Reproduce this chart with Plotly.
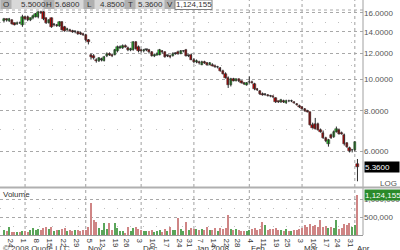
import math
import pandas as pd
import plotly.graph_objects as go

# ---------------- data ----------------
holidays = ["2007-11-22", "2007-12-25", "2008-01-01", "2008-01-21", "2008-02-18", "2008-03-21"]
dates = [d.strftime("%Y-%m-%d") for d in pd.bdate_range("2007-09-19", "2008-04-02")
         if d.strftime("%Y-%m-%d") not in holidays]

opens = [15.10, 15.30, 15.10, 15.20, 14.85, 14.75, 14.95, 14.70, 15.50, 15.60,
         15.20, 15.40, 15.60, 15.50, 16.10, 16.10, 15.40, 14.90, 15.40, 14.70,
         14.70, 14.60, 15.00, 14.50, 14.20, 14.20, 14.10, 14.00, 14.00, 13.90,
         13.80, 13.70, 13.20, 11.90, 11.80, 11.50, 11.40, 11.50, 11.40, 11.80,
         12.00, 11.90, 11.90, 12.20, 12.50, 12.50, 12.70, 12.50, 12.30, 12.30,
         13.00, 12.60, 12.30, 12.20, 12.30, 12.30, 12.10, 11.80, 11.90, 11.90,
         12.20, 12.10, 11.80, 11.80, 11.80, 12.00, 12.15, 12.00, 12.20, 12.30,
         11.80, 11.90, 11.50, 11.30, 11.30, 11.10, 11.30, 11.20, 11.10, 11.10,
         11.00, 10.90, 10.80, 10.60, 10.40, 10.10, 9.60, 10.00, 9.90, 10.00,
         9.85, 9.75, 9.60, 9.80, 9.80, 9.70, 9.30, 9.20, 9.00, 8.95,
         8.95, 8.90, 8.85, 8.75, 8.55, 8.50, 8.55, 8.45, 8.60, 8.55,
         8.50, 8.40, 8.30, 8.20, 8.10, 8.00, 7.90, 7.25, 7.30, 7.30,
         7.00, 6.85, 6.60, 6.30, 6.75, 6.65, 6.90, 7.00, 6.85, 6.75,
         6.35, 6.15, 6.05, 6.05, 5.50]
highs = [15.45, 15.40, 15.45, 15.30, 14.95, 15.05, 15.05, 15.80, 15.70, 15.70,
         15.50, 15.80, 16.00, 16.20, 16.25, 16.20, 15.50, 15.30, 15.50, 14.85,
         14.80, 15.10, 15.10, 14.60, 14.40, 14.30, 14.20, 14.10, 14.10, 14.00,
         13.90, 13.80, 13.30, 12.00, 11.95, 11.60, 11.70, 11.65, 11.80, 12.10,
         12.10, 12.00, 12.40, 12.70, 12.70, 12.80, 12.80, 12.60, 12.50, 13.10,
         13.10, 12.70, 12.40, 12.40, 12.40, 12.40, 12.20, 12.00, 12.10, 12.40,
         12.30, 12.20, 11.90, 11.90, 12.10, 12.10, 12.25, 12.30, 12.30, 12.40,
         11.90, 12.00, 11.60, 11.50, 11.40, 11.40, 11.40, 11.30, 11.30, 11.20,
         11.10, 11.00, 10.90, 10.70, 10.50, 10.20, 10.10, 10.10, 10.05, 10.05,
         9.90, 9.80, 9.80, 10.20, 9.90, 9.75, 9.40, 9.25, 9.10, 9.05,
         9.00, 8.95, 8.90, 8.80, 8.60, 8.70, 8.65, 8.65, 8.65, 8.65,
         8.55, 8.45, 8.35, 8.25, 8.15, 8.05, 7.95, 7.35, 7.60, 7.35,
         7.05, 6.95, 6.65, 6.55, 6.80, 6.95, 7.15, 7.05, 6.90, 6.80,
         6.40, 6.20, 6.10, 6.45, 5.68]
lows = [14.95, 15.05, 15.00, 14.75, 14.65, 14.70, 14.80, 14.50, 15.20, 15.10,
        15.10, 15.30, 15.50, 15.40, 15.90, 15.20, 14.80, 14.85, 14.40, 14.55,
        14.50, 14.50, 14.15, 14.00, 14.10, 14.00, 13.90, 13.85, 13.70, 13.70,
        13.60, 13.10, 12.80, 11.50, 11.50, 11.25, 11.30, 11.35, 11.35, 11.70,
        11.80, 11.70, 11.85, 12.10, 12.40, 12.40, 12.50, 12.20, 12.20, 12.25,
        12.35, 12.10, 12.10, 12.10, 12.20, 12.00, 11.75, 11.70, 11.80, 11.85,
        12.00, 11.65, 11.70, 11.60, 11.75, 11.90, 11.90, 11.95, 12.10, 11.75,
        11.70, 11.45, 11.20, 11.20, 11.10, 11.05, 11.15, 11.00, 11.05, 10.95,
        10.85, 10.80, 10.55, 10.35, 10.05, 9.40, 9.50, 9.85, 9.85, 9.80,
        9.70, 9.60, 9.55, 9.70, 9.70, 9.25, 9.20, 8.95, 8.90, 8.90,
        8.85, 8.80, 8.75, 8.45, 8.45, 8.45, 8.45, 8.40, 8.50, 8.50,
        8.40, 8.30, 8.15, 8.05, 7.95, 7.90, 7.20, 7.05, 7.00, 6.95,
        6.85, 6.55, 6.40, 6.20, 6.55, 6.60, 6.85, 6.75, 6.75, 6.25,
        6.15, 5.95, 5.95, 6.00, 4.85]
closes = [15.30, 15.20, 15.30, 14.80, 14.70, 14.95, 14.85, 15.50, 15.30, 15.20,
          15.40, 15.70, 15.90, 16.10, 16.00, 15.30, 14.90, 15.20, 14.50, 14.70,
          14.60, 15.00, 14.20, 14.10, 14.30, 14.10, 14.00, 14.00, 13.80, 13.80,
          13.70, 13.20, 13.00, 11.70, 11.60, 11.40, 11.60, 11.50, 11.70, 12.00,
          11.90, 11.80, 12.30, 12.60, 12.50, 12.70, 12.60, 12.30, 12.40, 13.00,
          12.40, 12.20, 12.20, 12.30, 12.30, 12.10, 11.80, 11.90, 12.00, 12.30,
          12.10, 11.70, 11.80, 11.70, 12.00, 12.00, 12.00, 12.20, 12.20, 11.80,
          11.80, 11.50, 11.30, 11.40, 11.20, 11.30, 11.20, 11.10, 11.20, 11.00,
          10.90, 10.90, 10.60, 10.40, 10.10, 9.60, 10.00, 9.90, 10.00, 9.85,
          9.75, 9.70, 9.75, 9.80, 9.75, 9.30, 9.25, 9.00, 8.95, 8.95,
          8.90, 8.85, 8.80, 8.50, 8.50, 8.65, 8.50, 8.60, 8.55, 8.60,
          8.45, 8.35, 8.20, 8.10, 8.00, 7.95, 7.25, 7.10, 7.05, 7.00,
          6.90, 6.60, 6.45, 6.50, 6.60, 6.90, 7.05, 6.80, 6.80, 6.30,
          6.20, 6.00, 6.05, 6.40, 5.36]
volumes = [140000, 110000, 220000, 90000, 80000, 90000, 80000, 120000, 100000, 90000,
           130000, 200000, 150000, 180000, 140000, 190000, 220000, 160000, 210000, 120000,
           140000, 150000, 170000, 200000, 120000, 150000, 110000, 130000, 140000, 120000,
           130000, 150000, 230000, 890000, 420000, 360000, 200000, 150000, 330000, 180000,
           330000, 150000, 330000, 200000, 120000, 100000, 60000, 220000, 120000, 200000,
           210000, 180000, 130000, 120000, 100000, 110000, 150000, 90000, 110000, 130000,
           90000, 160000, 120000, 210000, 130000, 150000, 470000, 170000, 110000, 350000,
           150000, 200000, 160000, 180000, 130000, 170000, 150000, 210000, 140000, 150000,
           190000, 120000, 200000, 180000, 200000, 556000, 180000, 150000, 160000, 130000,
           120000, 110000, 120000, 150000, 180000, 200000, 150000, 170000, 360000, 280000,
           140000, 160000, 170000, 200000, 150000, 130000, 120000, 160000, 120000, 110000,
           150000, 140000, 170000, 200000, 290000, 230000, 300000, 250000, 270000, 230000,
           420000, 230000, 240000, 200000, 230000, 200000, 420000, 180000, 200000, 300000,
           270000, 330000, 220000, 280000, 1124155]

week_dates = ["2007-09-24", "2007-10-01", "2007-10-08", "2007-10-15", "2007-10-22", "2007-10-29",
              "2007-11-05", "2007-11-12", "2007-11-19", "2007-11-26", "2007-12-03", "2007-12-10",
              "2007-12-17", "2007-12-24", "2007-12-31", "2008-01-07", "2008-01-14", "2008-01-22",
              "2008-01-28", "2008-02-04", "2008-02-11", "2008-02-19", "2008-02-25", "2008-03-03",
              "2008-03-10", "2008-03-17", "2008-03-24", "2008-03-31"]
week_labels = ["24", "1", "8", "15", "22", "29", "5", "12", "19", "26", "3", "10", "17", "24",
               "31", "7", "14", "22", "28", "4", "11", "19", "25", "3", "10", "17", "24", "31"]
month_dates = ["2007-11-01", "2007-12-03", "2008-01-02", "2008-02-01", "2008-03-03", "2008-04-01"]
month_labels = ["Nov", "Dec", "Jan 2008", "Feb", "Mar", "Apr"]
grid_month_dates = ["2007-10-01"] + month_dates
price_ticks = [6, 8, 10, 12, 14, 16]
price_minor = [7, 9, 11, 13, 15]
vol_ticks = [500000, 1000000]
vol_minor = [250000, 750000]
header_labels = ["O", "H", "L", "T", "V"]
header_values = ["5.5000", "5.6800", "4.8500", "5.3600", "1,124,155"]

# ---------------- geometry helpers (pixels -> paper) ----------------
W, H = 400, 250
ML, MR, MT, MB = 0, 37, 0, 15
PW, PH = W - ML - MR, H - MT - MB


def px(xp):
    return (xp - ML) / PW


def py(yp):
    return (H - MB - yp) / PH


idx = {d: i for i, d in enumerate(dates)}
xs = list(range(len(dates)))
FONT = "Arial"
UP, DOWN, EDGE = "#2ecc2e", "#cc0000", "#2a2a2a"

fig = go.Figure()
# wicks
wx, wy = [], []
for i, (h, l) in enumerate(zip(highs, lows)):
    wx += [i, i, None]
    wy += [l, h, None]
fig.add_trace(go.Scatter(x=wx, y=wy, mode="lines", line=dict(color=EDGE, width=1),
                         xaxis="x", yaxis="y", showlegend=False, hoverinfo="skip"))
# bodies (a doji is drawn as a thin dash)
body_base = [min(o, c) for o, c in zip(opens, closes)]
body_len = [max(abs(c - o), min(o, c) * 0.004) for o, c in zip(opens, closes)]
body_col = [UP if c > o else (DOWN if c < o else EDGE) for o, c in zip(opens, closes)]
fig.add_trace(go.Bar(x=xs, y=body_len, base=body_base, width=0.9,
                     marker=dict(color=body_col, line=dict(color=EDGE, width=0.5)),
                     xaxis="x", yaxis="y", showlegend=False, hoverinfo="skip"))
vcolors = ["#5aa55a" if c >= o else "#cf8585" for o, c in zip(opens, closes)]
fig.add_trace(go.Bar(x=xs, y=volumes, marker=dict(color=vcolors, line=dict(width=0)),
                     width=0.42, xaxis="x2", yaxis="y2", showlegend=False, hoverinfo="skip"))

xr = [-1.5, 136.1]
pdom = [py(186), py(10)]
vdom = [0, py(188)]
fig.update_layout(
    width=W, height=H, margin=dict(l=ML, r=MR, t=MT, b=MB),
    paper_bgcolor="white", plot_bgcolor="white",
    font=dict(family=FONT, size=8, color="#333333"),
    bargap=0, barmode="overlay",
    xaxis=dict(domain=[0, 1], range=xr, anchor="y", showticklabels=False, showgrid=False,
               zeroline=False, fixedrange=True),
    xaxis2=dict(domain=[0, 1], range=xr, anchor="y2", matches="x", showgrid=False, zeroline=False,
                tickmode="array", tickvals=[idx[d] for d in week_dates], ticktext=week_labels,
                ticks="", ticklabelstandoff=-3, tickfont=dict(size=8, color="#333333", family=FONT),
                showline=True, linecolor="#999999", linewidth=1),
    yaxis=dict(domain=pdom, type="log", range=[math.log10(4.69), math.log10(16.34)],
               side="right", anchor="x", tickmode="array", tickvals=price_ticks,
               ticktext=["%.4f" % v for v in price_ticks], ticks="",
               tickfont=dict(size=8, color="#555555", family=FONT),
               showgrid=True, gridcolor="#a8a8a8", gridwidth=1, griddash="dot", zeroline=False,
               minor=dict(tickvals=price_minor, showgrid=True, gridcolor="#c0c0c0",
                          griddash="1px,12px", ticks="")),
    yaxis2=dict(domain=vdom, range=[0, 1306000], side="right", anchor="x2", tickmode="array",
                tickvals=vol_ticks, ticktext=["{:,}".format(v) for v in vol_ticks], ticks="",
                tickfont=dict(size=8, color="#555555", family=FONT),
                showgrid=True, gridcolor="#a8a8a8", griddash="dot", zeroline=False,
                minor=dict(tickvals=vol_minor, showgrid=True, gridcolor="#c0c0c0",
                           griddash="1px,12px", ticks="")),
)

shapes = []
anns = []
# month grid lines
for d in grid_month_dates:
    shapes.append(dict(type="line", xref="x", yref="paper", x0=idx[d], x1=idx[d], y0=0, y1=1,
                       line=dict(color="#a0a0a0", width=1, dash="dot"), layer="below"))
# frame lines
shapes.append(dict(type="line", xref="paper", yref="paper", x0=1, x1=1, y0=0, y1=1,
                   line=dict(color="#a0a0a0", width=1)))
shapes.append(dict(type="line", xref="paper", yref="paper", x0=0, x1=px(400), y0=py(187.5), y1=py(187.5),
                   line=dict(color="#b0b0b0", width=2)))
shapes.append(dict(type="line", xref="paper", yref="paper", x0=0, x1=1, y0=pdom[1], y1=pdom[1],
                   line=dict(color="#a8a8a8", width=1, dash="dot")))

# header
centers = [6, 49, 89, 130, 170]
val_centers = [33, 67, 112, 150, 194]
shapes.append(dict(type="rect", xref="paper", yref="paper", x0=px(0), x1=px(175), y0=py(9), y1=py(0),
                   fillcolor="#d8d8d8", line=dict(width=0)))
for c in centers:
    shapes.append(dict(type="rect", xref="paper", yref="paper", x0=px(c - 5.5), x1=px(c + 5.5),
                       y0=py(9), y1=py(0), fillcolor="#b0b0b0", line=dict(width=0)))
shapes.append(dict(type="rect", xref="paper", yref="paper", x0=px(175), x1=px(212), y0=py(9.5), y1=py(0),
                   fillcolor="white", line=dict(color="#808080", width=1)))
for lab, c in zip(header_labels, centers):
    anns.append(dict(text=lab, xref="paper", yref="paper", x=px(c), y=py(4.5), showarrow=False,
                     xanchor="center", yanchor="middle", font=dict(size=8, color="#333333", family=FONT)))
for val, c in zip(header_values, val_centers):
    anns.append(dict(text=val, xref="paper", yref="paper", x=px(c), y=py(4.5), showarrow=False,
                     xanchor="center", yanchor="middle", font=dict(size=8, color="#333333", family=FONT)))

# last price / last volume tags
anns.append(dict(text="%.4f" % closes[-1], xref="paper", yref="y", x=px(364), y=math.log10(closes[-1]),
                 xanchor="left", yanchor="middle", showarrow=False, bgcolor="#000000", width=34, height=10,
                 align="left", borderpad=0, font=dict(size=8, color="white", family=FONT)))
anns.append(dict(text="{:,}".format(volumes[-1]), xref="paper", yref="y2", x=px(364), y=volumes[-1],
                 xanchor="left", yanchor="middle", showarrow=False, bgcolor="#2a8a2a", width=35, height=10,
                 align="left", borderpad=0, font=dict(size=8, color="white", family=FONT)))
anns.append(dict(text="LOG", xref="paper", yref="paper", x=px(399), y=py(183), xanchor="right",
                 yanchor="middle", showarrow=False, font=dict(size=8, color="#555555", family=FONT)))
anns.append(dict(text="Volume", xref="paper", yref="paper", x=px(1), y=py(194.5), xanchor="left",
                 yanchor="middle", showarrow=False, font=dict(size=8, color="#333333", family=FONT)))
# month labels & copyright
for d, lab in zip(month_dates, month_labels):
    anns.append(dict(text=lab, xref="x2", yref="paper", x=idx[d], y=py(248.5), xanchor="left",
                     yanchor="middle", showarrow=False, font=dict(size=8, color="#333333", family=FONT)))
anns.append(dict(text="© 2008 Quote LLC", xref="paper", yref="paper", x=px(1), y=py(248),
                 xanchor="left", yanchor="middle", showarrow=False,
                 font=dict(size=8, color="#444444", family=FONT)))

fig.update_layout(shapes=shapes, annotations=anns)
fig.write_html("out.html")
